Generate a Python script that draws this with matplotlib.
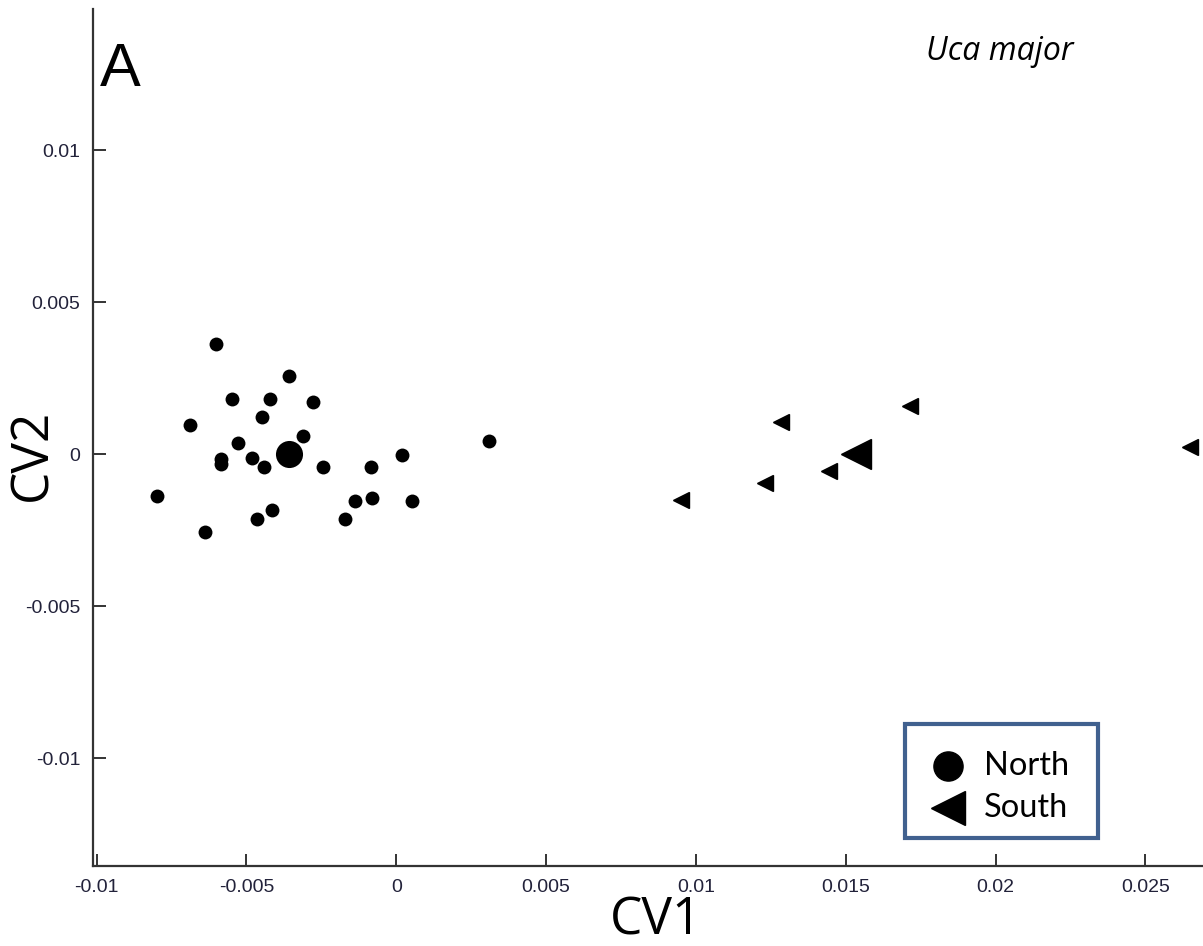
import matplotlib
matplotlib.use("Agg")
import matplotlib.pyplot as plt
from matplotlib.lines import Line2D
from matplotlib.patches import Rectangle

# ---- data (values in units of CV scores) ----
north_cv1 = [-0.00603, -0.00357, -0.00548, -0.00422, -0.00277, -0.00448, -0.00687,
             -0.00311, -0.00528, 0.00308, -0.00586, -0.00586, -0.00481, -0.00443,
             -0.00245, -0.00086, 0.00019, -0.00798, -0.00081, -0.00139, 0.00052,
             -0.00416, -0.00464, -0.00171, -0.00639]
north_cv2 = [0.00364, 0.00257, 0.00182, 0.00183, 0.00173, 0.00124, 0.00097,
             0.00059, 0.00038, 0.00044, -0.00015, -0.00031, -0.00012, -0.00041,
             -0.00041, -0.00042, -0.00003, -0.00138, -0.00145, -0.00153, -0.00154,
             -0.00182, -0.00213, -0.00213, -0.00255]
south_cv1 = [0.00951, 0.01232, 0.01284, 0.01443, 0.01713, 0.02650]
south_cv2 = [-0.00151, -0.00094, 0.00105, -0.00056, 0.00158, 0.00024]
north_mean = (-0.00357, 0.0)
south_mean = (0.01535, 0.0)

xticks = [-0.01, -0.005, 0, 0.005, 0.01, 0.015, 0.02, 0.025]
xtick_labels = ["-0.01", "-0.005", "0", "0.005", "0.01", "0.015", "0.02", "0.025"]
yticks = [-0.01, -0.005, 0, 0.005, 0.01]
ytick_labels = ["-0.01", "-0.005", "0", "0.005", "0.01"]
group_labels = ["North", "South"]

W, H = 1203, 946
fig = plt.figure(figsize=(W / 100, H / 100), dpi=100)
ax = fig.add_axes([93 / W, 1 - 866 / H, 1 - 93 / W, (866 - 9) / H])

ax.scatter(north_cv1, north_cv2, marker='o', s=100, color='black', linewidths=0, zorder=3)
ax.scatter([north_mean[0]], [north_mean[1]], marker='o', s=380, color='black', linewidths=0, zorder=3)
ax.plot(south_cv1, south_cv2, linestyle='none', marker='<', markersize=12,
        color='black', zorder=3)
ax.plot([south_mean[0]], [south_mean[1]], linestyle='none', marker='<', markersize=21,
        color='black', zorder=3)

ax.set_xlim(-0.01012, 0.02692)
ax.set_ylim(-0.01354, 0.01465)

for s in ['top', 'right']:
    ax.spines[s].set_visible(False)
for s in ['left', 'bottom']:
    ax.spines[s].set_linewidth(1.6)
    ax.spines[s].set_color('#333333')

tick_font = dict(family='Liberation Sans', size=14)
ax.set_xticks(xticks)
ax.set_xticklabels(xtick_labels, fontdict=tick_font, color='#22223a')
ax.set_yticks(yticks)
ax.set_yticklabels(ytick_labels, fontdict=tick_font, color='#22223a')
ax.tick_params(direction='in', length=9, width=1.4, color='#333333', pad=9)

# axis titles
fig.text(656 / W, 1 - 921 / H, "CV1", family='Open Sans', fontsize=37,
         ha='center', va='center')
fig.text(33 / W, 1 - 455 / H, "CV2", family='Open Sans', fontsize=37,
         ha='center', va='center', rotation=90)

fig.text(100 / W, 1 - 86 / H, "A", family='Liberation Sans', fontsize=44,
         ha='left', va='baseline')
fig.text(1000 / W, 1 - 52 / H, "Uca major", family='Open Sans', style='italic',
         fontsize=23, ha='center', va='center')

# legend box
fig.patches.append(Rectangle((905 / W, 1 - 838 / H), (1098 - 905) / W, (838 - 724) / H,
                             transform=fig.transFigure, facecolor='white',
                             edgecolor='#41618f', linewidth=3, zorder=5))
legend_markers = ['o', '<']
legend_sizes = [21, 24]
legend_rows = [766, 808]
for lab, mk, ms, yrow in zip(group_labels, legend_markers, legend_sizes, legend_rows):
    fig.add_artist(Line2D([948 / W], [1 - yrow / H], transform=fig.transFigure,
                          linestyle='none', marker=mk, markersize=ms, color='black',
                          zorder=6))
    fig.text(984 / W, 1 - yrow / H, lab, family='Lato', fontsize=23.5,
             ha='left', va='center', zorder=6)

fig.savefig("out.png", dpi=100)
